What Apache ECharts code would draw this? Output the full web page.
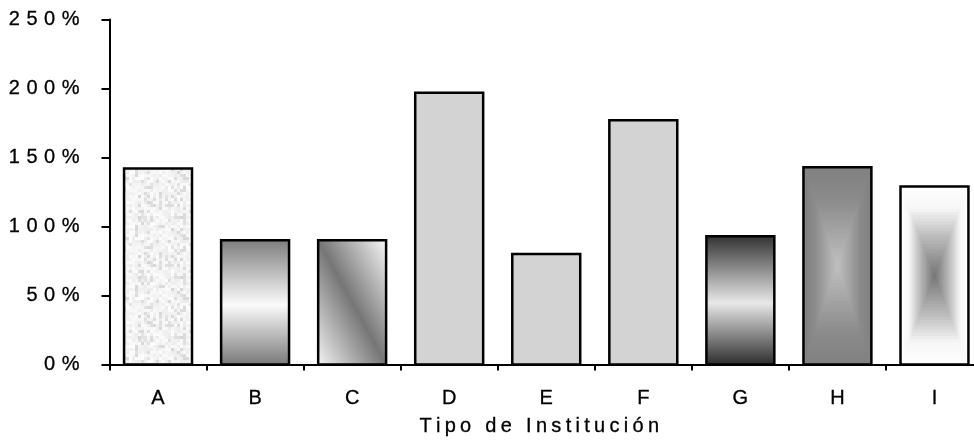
<!DOCTYPE html>
<html>
<head>
<meta charset="utf-8">
<script src="https://cdn.jsdelivr.net/npm/echarts@6/dist/echarts.min.js"></script>
<style>
  html, body { margin: 0; padding: 0; background: #fff; }
  #chart { width: 974px; height: 442px; }
</style>
</head>
<body>
<div id="chart"></div>
<script>
// Institution types and their percentages
const categories = ['A', 'B', 'C', 'D', 'E', 'F', 'G', 'H', 'I'];
const values = [142, 90, 90, 197, 80, 177, 93, 143, 129];
const yMax = 250;
const yStep = 50;
const axisTitle = 'Tipo de Institución';

// Fill treatment for each bar (same order as categories)
const barFills = ['noise', 'band', 'diagonal', 'flat', 'flat', 'flat', 'bandDark', 'box', 'boxInverse'];

const FONT = 'Liberation Sans';
const FONT_SIZE = 20;

// Split a string into rich-text tokens so every glyph gets trailing spacing
function spaced(text) {
  const chars = Array.from(text);
  return chars.map((c, k) => '{' + (k < chars.length - 1 ? 'g' : 'e') + '|' + c + '}').join('');
}

function spacedRich(gap) {
  const base = { color: '#000', fontFamily: FONT, fontSize: FONT_SIZE, textBorderColor: '#000', textBorderWidth: 0.3 };
  return {
    g: Object.assign({ padding: [0, gap, 0, 0] }, base),
    e: Object.assign({}, base)
  };
}

// Small speckled grey tile used as a repeating texture
function makeNoiseTile() {
  const size = 60, cell = 3;
  const c = document.createElement('canvas');
  c.width = size; c.height = size;
  const ctx = c.getContext('2d');
  let s = 0x2f6b1a3d;
  const next = () => {
    s ^= s << 13; s ^= s >>> 17; s ^= s << 5;
    return ((s >>> 0) % 10000) / 10000;
  };
  for (let y = 0; y < size; y += cell) {
    for (let x = 0; x < size; x += cell) {
      const r = next();
      const g = r < 0.2 ? 214 + Math.round(next() * 14) : 236 + Math.round(next() * 17);
      ctx.fillStyle = 'rgb(' + g + ',' + g + ',' + g + ')';
      ctx.fillRect(x, y, cell, cell);
    }
  }
  return c;
}
const noiseTile = makeNoiseTile();

function mixGrey(stops, t) {
  for (let k = 1; k < stops.length; k++) {
    if (t <= stops[k][0]) {
      const a = stops[k - 1], b = stops[k];
      const f = (t - a[0]) / (b[0] - a[0] || 1);
      const g = Math.round(a[1] + (b[1] - a[1]) * f);
      return 'rgb(' + g + ',' + g + ',' + g + ')';
    }
  }
  const g = stops[stops.length - 1][1];
  return 'rgb(' + g + ',' + g + ',' + g + ')';
}

// Concentric rectangles: t = 0 at the border, t = 1 at the centre
function boxGradient(x, y, w, h, stops) {
  const steps = 28;
  const out = [];
  for (let k = 0; k < steps; k++) {
    const t = k / steps;
    const dx = t * w / 2, dy = t * h / 2;
    out.push({
      type: 'rect',
      shape: { x: x + dx, y: y + dy, width: w - 2 * dx, height: h - 2 * dy },
      style: { fill: mixGrey(stops, t + 0.5 / steps) },
      silent: true
    });
  }
  return out;
}

function renderBar(params, api) {
  const idx = api.value(0);
  const top = api.coord([idx, api.value(1)]);
  const base = api.coord([idx, 0]);
  const w = api.size([1, 0])[0] * 0.70;
  const x = top[0] - w / 2;
  const y = top[1];
  const h = base[1] - top[1];
  const kind = barFills[params.dataIndex];
  const children = [];
  const rectShape = { x: x, y: y, width: w, height: h };

  if (kind === 'noise') {
    children.push({ type: 'rect', shape: rectShape, style: { fill: { image: noiseTile, repeat: 'repeat' } } });
  } else if (kind === 'band') {
    children.push({ type: 'rect', shape: rectShape, style: { fill: new echarts.graphic.LinearGradient(0, 0, 0, 1, [
      { offset: 0, color: '#7e7e7e' }, { offset: 0.52, color: '#fbfbfb' }, { offset: 1, color: '#7a7a7a' }
    ]) } });
  } else if (kind === 'bandDark') {
    children.push({ type: 'rect', shape: rectShape, style: { fill: new echarts.graphic.LinearGradient(0, 0, 0, 1, [
      { offset: 0, color: '#333333' }, { offset: 0.52, color: '#e8e8e8' }, { offset: 1, color: '#2e2e2e' }
    ]) } });
  } else if (kind === 'diagonal') {
    // darkest along the top-left to bottom-right diagonal, light towards the other two corners
    const n = Math.hypot(w, h);
    const ux = h / n, uy = -w / n;
    const p0 = [x, y + h];
    const len = (w * ux - h * uy);
    const p1 = [p0[0] + ux * len, p0[1] + uy * len];
    children.push({ type: 'rect', shape: rectShape, style: { fill: new echarts.graphic.LinearGradient(p0[0], p0[1], p1[0], p1[1], [
      { offset: 0, color: '#f2f2f2' }, { offset: 0.5, color: '#767676' }, { offset: 1, color: '#f6f6f6' }
    ], true) } });
  } else if (kind === 'box') {
    children.push.apply(children, boxGradient(x, y, w, h, [[0, 128], [0.35, 140], [1, 192]]));
  } else if (kind === 'boxInverse') {
    children.push.apply(children, boxGradient(x, y, w, h, [[0, 255], [0.25, 246], [0.55, 190], [1, 118]]));
  } else {
    children.push({ type: 'rect', shape: rectShape, style: { fill: '#d3d3d3' } });
  }

  children.push({ type: 'rect', shape: rectShape, style: { fill: null, stroke: '#000', lineWidth: 2.5 } });
  return { type: 'group', children: children };
}

const chart = echarts.init(document.getElementById('chart'), null, { renderer: 'canvas' });

chart.setOption({
  animation: false,
  backgroundColor: '#fff',
  grid: { left: 109.5, right: -9, top: 19.5, bottom: 77.5, outerBoundsMode: 'none', containLabel: false },
  xAxis: {
    type: 'category',
    data: categories,
    boundaryGap: true,
    axisLine: { lineStyle: { color: '#000', width: 2 } },
    axisTick: { show: true, length: 6, lineStyle: { color: '#000', width: 2 } },
    axisLabel: {
      color: '#000', fontFamily: FONT, fontSize: FONT_SIZE, margin: 24,
      textBorderColor: '#000', textBorderWidth: 0.3
    },
    name: spaced(axisTitle),
    nameLocation: 'middle',
    nameGap: 52,
    nameTextStyle: {
      color: '#000', fontFamily: FONT, fontSize: FONT_SIZE,
      padding: [0, 14, 0, 0],
      rich: spacedRich(4.3)
    },
    splitLine: { show: false }
  },
  yAxis: {
    type: 'value',
    min: 0,
    max: yMax,
    interval: yStep,
    axisLine: { show: true, lineStyle: { color: '#000', width: 2 } },
    axisTick: { show: true, length: 8, lineStyle: { color: '#000', width: 2 } },
    axisLabel: {
      color: '#000', fontFamily: FONT, fontSize: FONT_SIZE, margin: 30,
      formatter: v => spaced(v + '%'),
      rich: spacedRich(6.5)
    },
    splitLine: { show: false }
  },
  series: [{
    type: 'custom',
    renderItem: renderBar,
    encode: { x: 0, y: 1 },
    data: categories.map((c, i) => [i, values[i]])
  }]
});
</script>
</body>
</html>
